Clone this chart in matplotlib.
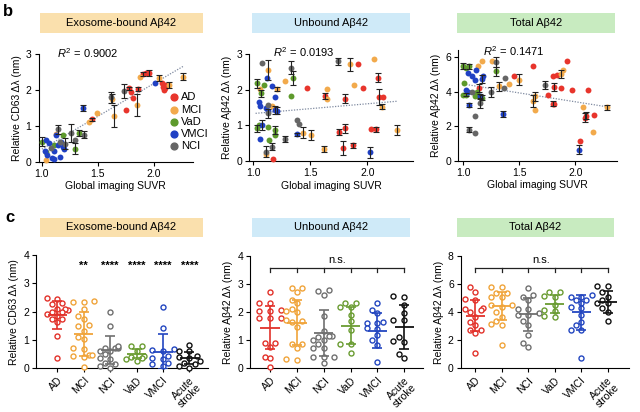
import numpy as np
import matplotlib
matplotlib.use("Agg")
import matplotlib.pyplot as plt
from matplotlib.patches import Rectangle

plt.rcParams["font.family"] = ["Liberation Sans", "DejaVu Sans"]
plt.rcParams["mathtext.fontset"] = "custom"
plt.rcParams["mathtext.rm"] = "Liberation Sans"
plt.rcParams["mathtext.it"] = "Liberation Sans:italic"

# ---- panel b: (SUVR, value, error) per group ----
GROUPS = ["AD", "MCI", "VaD", "VMCI", "NCI"]
GROUP_COLORS = ["#e8352c", "#f2aa4c", "#5e9a2c", "#2041c4", "#666666"]

b1_ad = [(1.45, 1.18, 0.05), (1.75, 1.44, 0), (1.78, 2.05, 0.05), (1.80, 1.95, 0),
         (1.81, 1.79, 0), (1.86, 2.03, 0.06), (1.90, 2.45, 0.05), (1.93, 2.47, 0),
         (1.96, 2.47, 0.08), (2.07, 2.20, 0), (2.08, 2.10, 0), (2.09, 2.00, 0),
         (2.10, 2.06, 0), (2.10, 2.15, 0)]
b1_mci = [(2.26, 2.37, 0.10), (2.14, 2.14, 0.08), (2.05, 2.33, 0.08), (1.88, 2.36, 0),
          (1.85, 1.58, 0.30), (1.63, 1.76, 0.12), (1.64, 1.28, 0.30), (1.49, 1.35, 0),
          (1.42, 1.10, 0), (1.13, 0.77, 0), (1.04, 0.05, 0)]
b1_vad = [(1.00, 0.56, 0.12), (1.33, 0.80, 0.08), (1.30, 0.36, 0.15), (1.19, 0.75, 0),
          (1.11, 0.48, 0), (1.04, 0.28, 0)]
b1_vmci = [(1.37, 1.49, 0.08), (2.01, 2.19, 0), (1.04, 0.60, 0), (1.06, 0.53, 0),
           (1.03, 0.30, 0), (1.11, 0.30, 0), (1.05, 0.20, 0), (1.13, 0.75, 0),
           (1.17, 0.56, 0), (1.19, 0.42, 0), (1.20, 0.36, 0), (1.11, 0.07, 0),
           (1.16, 0.14, 0), (1.09, 0.10, 0), (1.14, 0.47, 0)]
b1_nci = [(1.73, 1.97, 0.20), (1.62, 1.80, 0.15), (1.26, 0.79, 0.25), (1.30, 0.61, 0),
          (1.38, 0.75, 0.10), (1.14, 0.90, 0.12), (1.16, 0.56, 0), (1.08, 0.38, 0),
          (1.21, 0.50, 0.15)]

b2_ad = [(1.47, 2.05, 0), (1.92, 2.73, 0), (1.96, 2.05, 0), (2.09, 2.34, 0.13),
         (2.10, 1.80, 0.22), (2.14, 1.80, 0), (1.63, 1.82, 0.08), (1.80, 1.75, 0.12),
         (1.80, 0.92, 0.12), (1.75, 0.82, 0.08), (1.79, 0.37, 0.20), (1.87, 0.44, 0.08),
         (2.03, 0.90, 0), (2.08, 0.89, 0.08), (1.17, 0.07, 0)]
b2_mci = [(1.13, 2.57, 0.28), (2.06, 2.86, 0), (1.85, 2.72, 0.18), (1.88, 2.15, 0),
          (1.65, 2.02, 0), (1.65, 1.75, 0), (1.28, 2.26, 0), (1.21, 2.03, 0.06),
          (1.06, 2.03, 0), (2.13, 1.53, 0.08), (2.26, 0.87, 0.15), (1.44, 0.80, 0.15),
          (1.51, 0.73, 0.15), (1.62, 0.33, 0.08), (1.16, 1.56, 0), (1.11, 0.20, 0)]
b2_vad = [(1.03, 2.18, 0.12), (1.09, 2.15, 0), (1.07, 1.91, 0.10), (1.33, 1.83, 0),
          (1.35, 2.33, 0.20), (1.03, 0.92, 0.10), (1.05, 1.01, 0), (1.14, 0.59, 0),
          (1.19, 0.87, 0.12), (1.19, 0.73, 0), (1.13, 0.97, 0)]
b2_vmci = [(1.12, 2.34, 0), (1.16, 2.12, 0), (1.05, 1.66, 0), (1.06, 1.55, 0),
           (1.11, 1.50, 0), (1.13, 1.40, 0), (1.19, 1.79, 0), (1.19, 1.44, 0.12),
           (1.21, 1.41, 0.10), (1.08, 1.01, 0.15), (1.06, 0.61, 0), (1.38, 0.75, 0.05),
           (2.02, 0.24, 0.15)]
b2_nci = [(1.08, 2.76, 0), (1.33, 2.62, 0.18), (1.74, 2.81, 0.10), (1.38, 1.15, 0),
          (1.40, 1.03, 0), (1.28, 0.61, 0.08), (1.11, 0.26, 0.15), (1.13, 1.58, 0),
          (1.13, 1.34, 0.12), (1.16, 0.40, 0.10)]

b3_ad = [(1.62, 5.46, 0), (1.93, 5.75, 0), (1.80, 4.92, 0), (1.84, 4.98, 0),
         (1.45, 4.88, 0), (1.87, 4.20, 0), (1.97, 4.07, 0), (2.11, 4.07, 0),
         (1.81, 4.27, 0.22), (1.76, 3.82, 0), (1.80, 3.30, 0.15), (1.81, 3.25, 0),
         (2.10, 2.60, 0.20), (2.09, 2.48, 0.25), (2.17, 2.62, 0), (2.04, 1.12, 0),
         (1.14, 4.20, 0.25)]
b3_mci = [(1.17, 5.79, 0), (1.26, 5.79, 0), (1.13, 5.46, 0), (1.89, 5.27, 0),
          (1.87, 5.02, 0.22), (1.50, 4.69, 0.30), (1.41, 4.44, 0), (1.32, 4.30, 0.25),
          (1.64, 3.73, 0.25), (1.62, 3.47, 0.35), (1.64, 2.91, 0), (2.07, 3.10, 0),
          (2.28, 3.09, 0.15), (2.16, 1.66, 0)]
b3_vad = [(1.00, 5.46, 0.18), (1.02, 5.37, 0), (1.05, 5.46, 0.15), (1.29, 5.17, 0.25),
          (1.01, 4.50, 0), (1.00, 3.82, 0), (1.02, 3.82, 0.10), (1.10, 3.73, 0),
          (1.17, 3.65, 0.15), (1.12, 3.95, 0)]
b3_vmci = [(1.04, 5.08, 0), (1.08, 4.88, 0), (1.11, 5.27, 0), (1.10, 4.69, 0),
           (1.18, 4.88, 0), (1.17, 4.73, 0.25), (1.02, 4.10, 0), (1.04, 3.95, 0),
           (1.15, 3.73, 0.15), (1.05, 3.20, 0.12), (1.35, 2.70, 0.15), (2.03, 0.64, 0.25)]
b3_nci = [(1.29, 5.71, 0.30), (1.37, 4.79, 0), (1.36, 4.21, 0), (1.25, 3.96, 0.28),
          (1.73, 4.36, 0.22), (1.15, 3.34, 0.28), (1.10, 2.57, 0), (1.05, 1.80, 0.15),
          (1.10, 1.60, 0), (1.08, 4.00, 0)]

B1_FIT_X, B1_FIT_Y = [1.0, 2.26], [0.35, 2.66]
B2_FIT_X, B2_FIT_Y = [1.02, 2.26], [1.34, 1.68]
B3_FIT_X, B3_FIT_Y = [1.0, 2.28], [4.43, 3.12]
R2_TEXT = ["0.9002", "0.0193", "0.1471"]

# ---- panel c: individual values per cohort ----
C_CATS = ["AD", "MCI", "NCI", "VaD", "VMCI", "Acute\nstroke"]
C_COLORS = ["#e2312a", "#f0a43a", "#707070", "#6a9c32", "#2346c0", "#111111"]

c1_ad = [2.45, 2.47, 2.27, 2.30, 2.09, 2.06, 2.09, 2.00, 1.98, 1.92, 1.86, 1.74, 1.74, 1.62, 1.15, 0.38]
c1_mci = [2.33, 2.37, 2.35, 2.09, 1.86, 1.74, 1.54, 1.50, 1.33, 1.11, 1.03, 0.73, 0.67, 0.44, 0.47, 0.47, 0.40, 0.05]
c1_nci = [1.98, 1.50, 0.73, 0.73, 0.73, 0.79, 0.62, 0.62, 0.50, 0.38, 0.32, 0.14, 0.08, 0.20, 0.02]
c1_vad = [0.77, 0.77, 0.62, 0.44, 0.38, 0.32, 0.26, 0.40]
c1_vmci = [2.18, 1.44, 0.64, 0.67, 0.44, 0.38, 0.32, 0.20, 0.14, 0.08, 0.62]
c1_stroke = [0.83, 0.62, 0.62, 0.44, 0.38, 0.40, 0.26, 0.20, 0.14, 0.02, 0.08]
C1_MEAN = [1.88, 1.21, 0.64, 0.52, 0.59, 0.37]
C1_SD = [0.51, 0.77, 0.50, 0.16, 0.62, 0.22]
C1_STARS = ["", "**", "****", "****", "****", "****"]

c2_ad = [2.73, 2.32, 2.34, 2.08, 2.04, 2.04, 1.78, 1.78, 1.78, 0.89, 0.89, 0.75, 0.42, 0.36, 0.06]
c2_mci = [2.85, 2.85, 2.71, 2.34, 2.43, 2.10, 2.04, 2.02, 1.72, 1.70, 1.66, 1.48, 0.86, 0.86, 0.71, 0.30, 0.33]
c2_nci = [2.77, 2.79, 2.61, 1.86, 1.34, 1.15, 1.10, 1.15, 1.01, 1.01, 0.86, 0.74, 0.71, 0.42, 0.42, 0.39, 0.18]
c2_vad = [2.32, 2.34, 2.17, 2.17, 1.90, 1.70, 1.37, 0.87, 0.87, 0.56]
c2_vmci = [2.32, 2.08, 1.98, 1.66, 1.63, 1.60, 1.43, 1.39, 1.19, 1.01, 0.83, 0.24]
c2_stroke = [2.58, 2.55, 2.26, 1.96, 1.72, 1.72, 1.10, 0.99, 0.95, 0.38, 0.50]
C2_MEAN = [1.45, 1.63, 1.25, 1.51, 1.34, 1.46]
C2_SD = [0.78, 0.80, 0.82, 0.66, 0.62, 0.78]

c3_ad = [5.77, 5.46, 4.92, 4.87, 4.28, 4.20, 4.16, 4.04, 3.68, 3.33, 3.09, 2.73, 2.73, 2.49, 1.12]
c3_mci = [5.77, 5.82, 5.39, 5.39, 5.10, 5.10, 4.39, 4.51, 4.51, 4.04, 3.68, 3.40, 3.09, 3.16, 1.66]
c3_nci = [5.70, 5.23, 5.10, 4.87, 4.20, 4.20, 3.80, 3.80, 3.92, 3.37, 3.09, 2.38, 1.78, 1.54]
c3_vad = [5.46, 5.46, 5.15, 5.10, 4.51, 4.11, 4.16, 3.73, 3.68]
c3_vmci = [5.10, 5.23, 5.10, 4.87, 4.87, 4.68, 4.35, 4.28, 3.80, 3.33, 3.09, 2.73, 2.73, 0.71]
c3_stroke = [5.87, 5.89, 5.46, 5.10, 4.87, 4.68, 4.63, 4.28, 4.04, 3.40]
C3_MEAN = [3.75, 4.44, 3.85, 4.56, 3.99, 4.75]
C3_SD = [1.10, 1.00, 1.17, 0.65, 1.25, 0.78]

FIG_W, FIG_H = 640, 412


def fig_rect(left, top, right, bottom):
    """pixel box -> figure fraction [l, b, w, h]"""
    return [left / FIG_W, 1 - bottom / FIG_H, (right - left) / FIG_W, (bottom - top) / FIG_H]


def style_axes(ax):
    for side in ["top", "right"]:
        ax.spines[side].set_visible(False)
    for side in ["left", "bottom"]:
        ax.spines[side].set_linewidth(0.8)
    ax.tick_params(labelsize=7.5, length=3, width=0.8, pad=2)


def header(fig, left, top, right, bottom, text, color):
    l, b, w, h = fig_rect(left, top, right, bottom)
    fig.add_artist(Rectangle((l, b), w, h, transform=fig.transFigure,
                             facecolor=color, edgecolor="none", zorder=0))
    fig.text(l + w / 2, b + h / 2, text, ha="center", va="center", fontsize=8)


def draw_scatter(ax, groups, fit_x, fit_y, r2, r2_pos, ylim, yticks, ylabel):
    for pts, color in zip(groups, GROUP_COLORS):
        x = [p[0] for p in pts]
        y = [p[1] for p in pts]
        ax.scatter(x, y, s=18, color=color, linewidths=0, zorder=3, clip_on=False)
    for pts in groups:
        bars = [p for p in pts if p[2] > 0]
        ax.errorbar([p[0] for p in bars], [p[1] for p in bars], yerr=[p[2] for p in bars],
                    fmt="none", ecolor="#222222", elinewidth=0.8, capsize=2,
                    capthick=0.8, zorder=4, clip_on=False)
    ax.plot(fit_x, fit_y, linestyle=(0, (1, 1.2)), color="#7f8aa0", lw=0.9, zorder=2)
    ax.set_ylim(*ylim)
    ax.set_yticks(yticks)
    ax.set_xticks([1.0, 1.5, 2.0])
    ax.set_xticklabels(["1.0", "1.5", "2.0"])
    ax.set_xlabel("Global imaging SUVR", fontsize=7.5, labelpad=2)
    ax.set_ylabel(ylabel, fontsize=7.5, labelpad=3)
    ax.text(r2_pos[0], r2_pos[1], f"$R^2$ = {r2}", transform=ax.transAxes, fontsize=8,
            ha="left", va="center")
    style_axes(ax)


def swarm_offsets(ax, xpos, values, diameter=5.6):
    """spread points sideways so the circles don't sit on top of each other"""
    order = np.argsort(values)
    cands = [0, -0.2, 0.2, -0.4, 0.4, -0.1, 0.1, -0.3, 0.3]
    placed = []
    offsets = np.zeros(len(values))
    for i in order:
        for c in cands:
            px = ax.transData.transform((xpos + c, values[i]))
            if all(np.hypot(*(px - q)) >= diameter for q in placed):
                break
        offsets[i] = c
        placed.append(ax.transData.transform((xpos + c, values[i])))
    return offsets


def draw_strip(ax, groups, means, sds, ylim, yticks, ylabel):
    ax.set_ylim(*ylim)
    for i, (vals, color) in enumerate(zip(groups, C_COLORS)):
        off = swarm_offsets(ax, i, vals)
        ax.scatter(i + off, vals, s=13, facecolors="white", edgecolors=color,
                   linewidths=1.0, zorder=3, clip_on=False)
        ax.hlines(means[i], i - 0.36, i + 0.36, color=color, lw=1.3, zorder=4)
        ax.errorbar(i, means[i], yerr=sds[i], fmt="none", ecolor=color, elinewidth=1.2,
                    capsize=3.6, capthick=1.2, zorder=4)
    ax.set_yticks(yticks)
    ax.set_xticks(range(len(C_CATS)))
    ax.set_xticklabels(C_CATS, rotation=45, ha="right", rotation_mode="anchor",
                       fontsize=7.5, linespacing=0.95)
    ax.set_ylabel(ylabel, fontsize=7.5, labelpad=3)
    style_axes(ax)


def ns_bracket(ax, y, drop, text_y):
    n = len(C_CATS)
    ax.plot([0, n - 1], [y, y], color="#222222", lw=0.9, clip_on=False)
    for i in range(n):
        ax.plot([i, i], [y, y - drop], color="#222222", lw=0.9, clip_on=False)
    ax.text((n - 1) / 2, text_y, "n.s.", ha="center", va="center", fontsize=8)


def main():
    fig = plt.figure(figsize=(FIG_W / 100, FIG_H / 100), dpi=100)

    # headers
    header(fig, 40, 13, 203, 33, "Exosome-bound Aβ42", "#fae0ad")
    header(fig, 252, 13, 410, 33, "Unbound Aβ42", "#cfeaf8")
    header(fig, 457, 13, 615, 33, "Total Aβ42", "#c8ebc0")
    header(fig, 40, 218, 203, 237, "Exosome-bound Aβ42", "#fae0ad")
    header(fig, 252, 218, 410, 237, "Unbound Aβ42", "#cfeaf8")
    header(fig, 457, 218, 614, 237, "Total Aβ42", "#c8ebc0")
    fig.text(3 / FIG_W, 1 - 12 / FIG_H, "b", fontsize=12, fontweight="bold", va="center")
    fig.text(5 / FIG_W, 1 - 217 / FIG_H, "c", fontsize=12, fontweight="bold", va="center")

    # panel b
    ax1 = fig.add_axes(fig_rect(38.5, 54.3, 193, 161.7))
    ax1.set_xlim(0.97, 2.35)
    draw_scatter(ax1, [b1_ad, b1_mci, b1_vad, b1_vmci, b1_nci], B1_FIT_X, B1_FIT_Y,
                 R2_TEXT[0], (0.12, 1.01), (0, 3), [0, 1, 2, 3], "Relative CD63 Δλ (nm)")
    for k, (name, color) in enumerate(zip(GROUPS, GROUP_COLORS)):
        yy = 0.60 - k * 0.114
        ax1.scatter([0.875], [yy], s=24, color=color, transform=ax1.transAxes, clip_on=False)
        ax1.text(0.925, yy, name, transform=ax1.transAxes, fontsize=8, va="center")

    ax2 = fig.add_axes(fig_rect(249.3, 54.3, 413, 161))
    ax2.set_xlim(0.965, 2.4)
    draw_scatter(ax2, [b2_ad, b2_mci, b2_vad, b2_vmci, b2_nci], B2_FIT_X, B2_FIT_Y,
                 R2_TEXT[1], (0.145, 1.02), (0, 3), [0, 1, 2, 3], "Relative Aβ42 Δλ (nm)")

    ax3 = fig.add_axes(fig_rect(458.3, 50, 616.7, 160.7))
    ax3.set_xlim(0.955, 2.37)
    draw_scatter(ax3, [b3_ad, b3_mci, b3_vad, b3_vmci, b3_nci], B3_FIT_X, B3_FIT_Y,
                 R2_TEXT[2], (0.155, 0.99), (0, 6.4), [0, 2, 4, 6], "Relative Aβ42 Δλ (nm)")

    # panel c
    cx1 = fig.add_axes(fig_rect(36, 255, 208, 368.3))
    cx1.set_xlim(-0.8, 5.7)
    draw_strip(cx1, [c1_ad, c1_mci, c1_nci, c1_vad, c1_vmci, c1_stroke], C1_MEAN, C1_SD,
               (0, 4), [0, 1, 2, 3, 4], "Relative CD63 Δλ (nm)")
    for i, s in enumerate(C1_STARS):
        cx1.text(i, 3.6, s, ha="center", va="center", fontsize=8, fontweight="bold")

    cx2 = fig.add_axes(fig_rect(250, 256, 423, 368.3))
    cx2.set_xlim(-0.75, 5.7)
    draw_strip(cx2, [c2_ad, c2_mci, c2_nci, c2_vad, c2_vmci, c2_stroke], C2_MEAN, C2_SD,
               (0, 4), [0, 1, 2, 3, 4], "Relative Aβ42 Δλ (nm)")
    ns_bracket(cx2, 3.58, 0.15, 3.85)

    cx3 = fig.add_axes(fig_rect(460.7, 256, 629.3, 368.3))
    cx3.set_xlim(-0.55, 5.82)
    draw_strip(cx3, [c3_ad, c3_mci, c3_nci, c3_vad, c3_vmci, c3_stroke], C3_MEAN, C3_SD,
               (0, 8), [0, 2, 4, 6, 8], "Relative Aβ42 Δλ (nm)")
    ns_bracket(cx3, 7.18, 0.3, 7.7)

    fig.savefig("out.png", dpi=100)


if __name__ == "__main__":
    main()
